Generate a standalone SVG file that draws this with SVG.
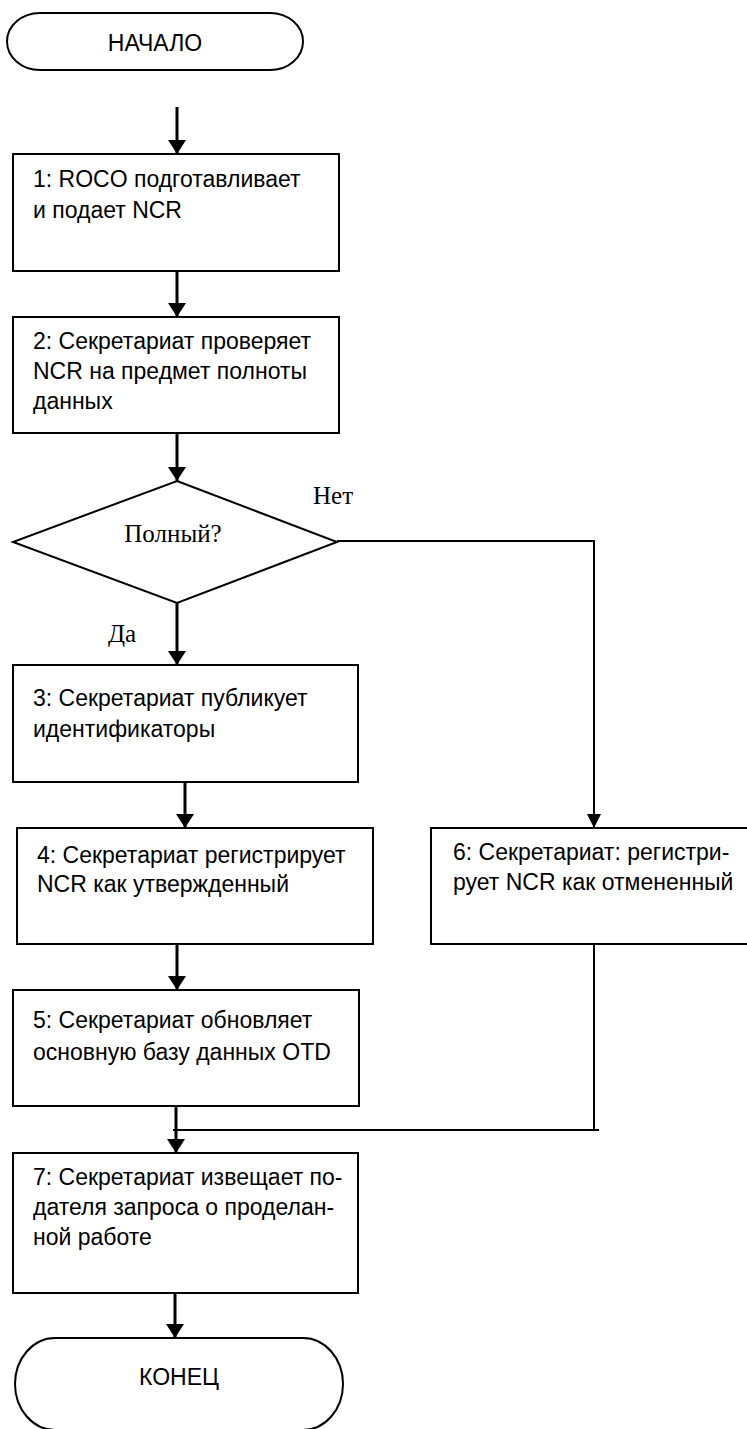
<svg xmlns="http://www.w3.org/2000/svg" width="747" height="1429" viewBox="0 0 747 1429">
<style>
.shape{fill:#fff;stroke:#000;stroke-width:2}
.t{font-family:"Liberation Sans",Arial,sans-serif;font-size:23px;fill:#000}
.s{font-family:"Liberation Serif","Times New Roman",serif;font-size:25px;fill:#000}
.thick{fill:none;stroke:#000;stroke-width:3}
.thin{fill:none;stroke:#000;stroke-width:2}
</style>
<defs>
<marker id="ah" viewBox="0 0 14 18" refX="14" refY="9" markerWidth="14" markerHeight="18" markerUnits="userSpaceOnUse" orient="auto">
<path d="M0,0 L14,9 L0,18 z" fill="#000"/>
</marker>
<marker id="ahs" viewBox="0 0 14 14" refX="14" refY="7" markerWidth="14" markerHeight="14" markerUnits="userSpaceOnUse" orient="auto">
<path d="M0,0 L14,7 L0,14 z" fill="#000"/>
</marker>
</defs>
<g id="connectors">
<path class="thick" d="M177,107 V154" marker-end="url(#ah)"/>
<path class="thick" d="M177,271 V317" marker-end="url(#ah)"/>
<path class="thick" d="M177,433 V481" marker-end="url(#ah)"/>
<path class="thick" d="M177,603 V665" marker-end="url(#ah)"/>
<path class="thick" d="M185,782 V828" marker-end="url(#ah)"/>
<path class="thick" d="M177,944 V990" marker-end="url(#ah)"/>
<path class="thick" d="M176,1106 V1153" marker-end="url(#ah)"/>
<path class="thick" d="M175,1293 V1338" marker-end="url(#ah)"/>
<path class="thin" d="M337,541 H594 V828" marker-end="url(#ahs)"/>
<path class="thin" d="M594,944 V1130"/>
<path class="thin" d="M173,1130 H599"/>
<text class="s" x="313" y="504">Нет</text>
<text class="s" x="108" y="642">Да</text>
</g>
<g id="start">
<path class="shape" d="M40,13 H270 A33,28.5 0 0 1 270,70 H40 A33,28.5 0 0 1 40,13 Z"/>
<text class="t" x="155" y="51" text-anchor="middle">НАЧАЛО</text>
</g>
<g id="n1">
<rect class="shape" x="13" y="154" width="326" height="117"/>
<text class="t" x="33" y="187">1: ROCO подготавливает</text>
<text class="t" x="33" y="218">и подает NCR</text>
</g>
<g id="n2">
<rect class="shape" x="13" y="317" width="326" height="116"/>
<text class="t" x="33" y="349">2: Секретариат проверяет</text>
<text class="t" x="33" y="379">NCR на предмет полноты</text>
<text class="t" x="33" y="409">данных</text>
</g>
<g id="decision">
<polygon class="shape" points="177,481 337,542 177,603 13,542"/>
<text class="s" x="173" y="542" text-anchor="middle">Полный?</text>
</g>
<g id="n3">
<rect class="shape" x="13" y="665" width="345" height="117"/>
<text class="t" x="33" y="706">3: Секретариат публикует</text>
<text class="t" x="33" y="737">идентификаторы</text>
</g>
<g id="n4">
<rect class="shape" x="17" y="828" width="356" height="116"/>
<text class="t" x="37" y="863">4: Секретариат регистрирует</text>
<text class="t" x="37" y="892">NCR как утвержденный</text>
</g>
<g id="n5">
<rect class="shape" x="13" y="990" width="346" height="116"/>
<text class="t" x="33" y="1028">5: Секретариат обновляет</text>
<text class="t" x="33" y="1060">основную базу данных OTD</text>
</g>
<g id="n6">
<rect class="shape" x="431" y="828" width="340" height="116"/>
<text class="t" x="453" y="860">6: Секретариат: регистри-</text>
<text class="t" x="453" y="890">рует NCR как отмененный</text>
</g>
<g id="n7">
<rect class="shape" x="13" y="1153" width="345" height="140"/>
<text class="t" x="33" y="1185">7: Секретариат извещает по-</text>
<text class="t" x="33" y="1215">дателя запроса о проделан-</text>
<text class="t" x="33" y="1245">ной работе</text>
</g>
<g id="end">
<path class="shape" d="M55,1338 H303 A40,46 0 0 1 303,1430 H55 A40,46 0 0 1 55,1338 Z"/>
<text class="t" x="179" y="1385" text-anchor="middle">КОНЕЦ</text>
</g>
</svg>
